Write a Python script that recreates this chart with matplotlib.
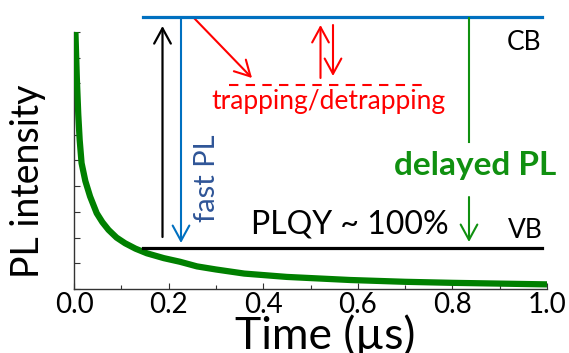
import numpy as np
import matplotlib
matplotlib.use('Agg')
import matplotlib.pyplot as plt
from matplotlib.lines import Line2D
from matplotlib.ticker import MultipleLocator

# decay curve (time in us, PL in arb. units)
t = [0.003, 0.006, 0.009, 0.012, 0.016, 0.024, 0.034, 0.048, 0.060, 0.073,
     0.090, 0.108, 0.130, 0.154, 0.190, 0.224, 0.260, 0.300, 0.360, 0.450,
     0.584, 0.700, 0.800, 0.900, 1.000]
pl = [1.0, 0.82, 0.68, 0.58, 0.49, 0.42, 0.36, 0.295, 0.26, 0.23,
      0.20, 0.178, 0.157, 0.139, 0.12, 0.106, 0.088, 0.076, 0.060, 0.047,
      0.035, 0.028, 0.024, 0.021, 0.018]
xticks = [0.0, 0.2, 0.4, 0.6, 0.8, 1.0]
xticklabels = ['0.0', '0.2', '0.4', '0.6', '0.8', '1.0']

W, H = 569, 353
plt.rcParams['font.family'] = ['Lato', 'DejaVu Sans']

fig = plt.figure(figsize=(W / 100, H / 100), dpi=100)
ax = fig.add_axes([74 / W, 1 - 289 / H, (547 - 74) / W, (289 - 32) / H])
ax.plot(t, pl, color='#008000', lw=4.5, solid_capstyle='butt',
        solid_joinstyle='round', zorder=3)
ax.set_xlim(0, 1)
ax.set_ylim(0, 1)
ax.spines['top'].set_visible(False)
ax.spines['right'].set_visible(False)
for s in ['left', 'bottom']:
    ax.spines[s].set_color('#333333')
    ax.spines[s].set_linewidth(1.0)
ax.set_xticks(xticks)
ax.set_xticklabels(xticklabels, fontsize=20)
ax.xaxis.set_minor_locator(MultipleLocator(0.1))
ax.yaxis.set_major_locator(MultipleLocator(0.1))
ax.set_yticklabels([])
ax.tick_params(direction='in', length=4, width=0.8, color='#333333', pad=2)
ax.tick_params(which='minor', direction='in', length=3, width=0.8, color='#333333')


def px(x, y):
    return (x / W, 1 - y / H)


def line(x0, y0, x1, y1, **kw):
    fig.add_artist(Line2D([x0 / W, x1 / W], [1 - y0 / H, 1 - y1 / H],
                          transform=fig.transFigure, **kw))


def arrow(x0, y0, x1, y1, color, lw):
    ax.annotate('', xy=px(x1, y1), xytext=px(x0, y0),
                xycoords='figure fraction', textcoords='figure fraction',
                arrowprops=dict(arrowstyle='->,head_length=0.55,head_width=0.3',
                                color=color, lw=lw, shrinkA=0, shrinkB=0,
                                mutation_scale=20))


# axis titles
fig.text(*px(325, 336), 'Time (µs)', fontsize=32, ha='center', va='center')
fig.text(*px(28, 181), 'PL intensity', fontsize=27, ha='center', va='center',
         rotation=90)

# band levels
line(143, 17, 542, 17, color='#0070C0', lw=2.3)
line(143, 247.5, 542, 247.5, color='black', lw=2.3)
# excitation and fast PL
arrow(162.5, 237, 162.5, 26, 'black', 1.6)
arrow(181, 18, 181, 243, '#0070C0', 1.5)
# trapping / detrapping
arrow(194, 18, 252, 78, 'red', 1.5)
line(229, 84.5, 422, 84.5, color='red', lw=1.5, ls=(0, (4.5, 3.5)))
arrow(320.5, 78, 320.5, 25, 'red', 1.5)
arrow(333, 25, 333, 76, 'red', 1.5)
# delayed PL
line(469, 18, 469, 142, color='#109010', lw=1.5)
arrow(469, 197, 469, 242, '#109010', 1.5)

fig.text(*px(328, 102), 'trapping/detrapping', color='red', fontsize=19,
         ha='center', va='center')
fig.text(*px(207, 178), 'fast PL', color='#2F5597', fontsize=21,
         ha='center', va='center', rotation=90)
fig.text(*px(475, 166), 'delayed PL', color='#109010', fontsize=24,
         fontweight='bold', ha='center', va='center')
fig.text(*px(350, 224), 'PLQY ~ 100%', color='black', fontsize=23,
         ha='center', va='center')
fig.text(*px(524, 43), 'CB', color='black', fontsize=19, ha='center', va='center')
fig.text(*px(525, 230), 'VB', color='black', fontsize=19, ha='center', va='center')

fig.savefig('out.png', dpi=100)
